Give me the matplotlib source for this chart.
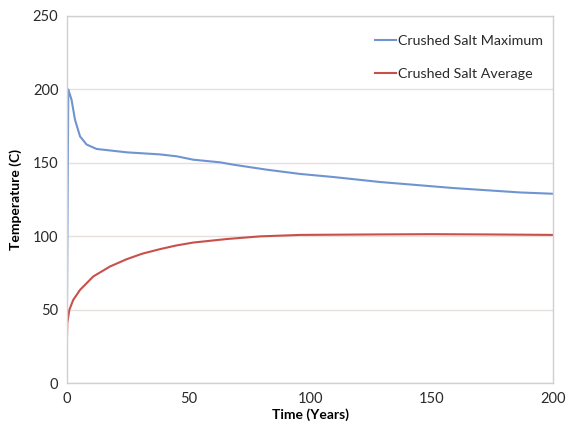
import matplotlib
matplotlib.use("Agg")
import matplotlib.pyplot as plt

# Crushed salt temperature history
t_max = [0, 0.66, 2.0, 3.4, 5.5, 8.2, 12.3, 24.7, 38.3, 45.2, 52, 63, 68.5,
         82.2, 95.9, 109.6, 128.8, 158.9, 186.3, 200]
temp_max = [20, 200, 193, 179.5, 168, 162.5, 159.5, 157.2, 155.8, 154.5, 152.2,
            150.4, 148.8, 145.4, 142.5, 140.4, 137.0, 132.9, 129.9, 129]

t_avg = [0, 0.25, 1.1, 2.7, 5.5, 10.9, 17.8, 24.7, 31, 38.3, 45, 52, 65.8, 79.4,
         96, 125, 150, 175, 200]
temp_avg = [22, 41, 50, 56.8, 63.6, 72.7, 79.5, 84.5, 88.2, 91.3, 93.8, 95.8,
            98.2, 100, 101, 101.3, 101.5, 101.3, 101]

x_ticks = [0, 50, 100, 150, 200]
y_ticks = [0, 50, 100, 150, 200, 250]

plt.rcParams["font.family"] = ["Lato", "DejaVu Sans"]

fig = plt.figure(figsize=(5.68, 4.32), dpi=100)
ax = fig.add_axes([0.1174, 0.1127, 0.8569, 0.8503])

ax.plot(t_max, temp_max, color="#7094d0", linewidth=1.5, label="Crushed Salt Maximum")
ax.plot(t_avg, temp_avg, color="#c8504b", linewidth=1.5, label="Crushed Salt Average")

ax.set_xlim(0, 200)
ax.set_ylim(0, 250)
ax.set_xticks(x_ticks)
ax.set_yticks(y_ticks)
ax.tick_params(length=0, labelsize=10.5, labelcolor="#2a2a2a", pad=6)
ax.grid(axis="y", color="#e6e0dc", linewidth=1)
ax.set_axisbelow(True)
for side in ax.spines.values():
    side.set_color("#d0d0d0")
    side.set_linewidth(1)

ax.set_xlabel("Time (Years)", fontsize=10, fontweight="bold", labelpad=2)
ax.set_ylabel("Temperature (C)", fontsize=10, fontweight="bold", labelpad=8)

ax.legend(loc="upper left", bbox_to_anchor=(362 / 568, 1 - 22 / 432),
          bbox_transform=fig.transFigure, frameon=False, fontsize=10.3,
          handlelength=1.5, handletextpad=0.1, labelspacing=1.5,
          labelcolor="#2a2a2a")

fig.savefig("out.png", dpi=100)
